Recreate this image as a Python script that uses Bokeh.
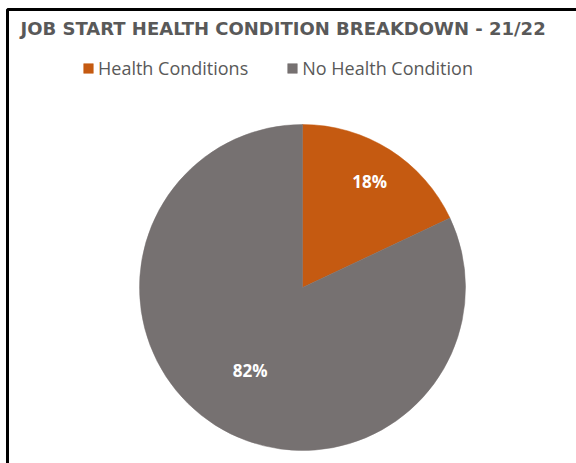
import math
from bokeh.plotting import figure
from bokeh.models import Range1d, ColumnDataSource, Legend, LegendItem
from bokeh.core.properties import value
from bokeh.embed import file_html
from bokeh.resources import INLINE

title_text = "JOB START HEALTH CONDITION BREAKDOWN - 21/22"
categories = ["Health Conditions", "No Health Condition"]
shares = [18, 82]
colors = ["#C55A11", "#767171"]

W, H = 576, 463
cx, cy, r = 302, H - 287, 163

p = figure(width=W, height=H, output_backend="svg", toolbar_location=None,
           x_range=Range1d(0, W), y_range=Range1d(0, H), min_border=0)
p.axis.visible = False
p.grid.visible = False
p.outline_line_color = None
p.background_fill_color = "white"
p.border_fill_color = "white"

# wedge angles: start at 12 o'clock, going clockwise
total = sum(shares)
starts, ends, mids = [], [], []
a = math.pi / 2
for s in shares:
    da = 2 * math.pi * s / total
    starts.append(a)
    ends.append(a - da)
    mids.append(a - da / 2)
    a -= da

src = ColumnDataSource(dict(start=starts, end=ends, color=colors, cat=categories))
wr = p.wedge(x=cx, y=cy, radius=r, start_angle="end", end_angle="start",
             fill_color="color", line_color="color", line_width=0.5, source=src)

# data labels
lab_r = [0.77, 0.6]
lx = [cx + f * r * math.cos(m) for f, m in zip(lab_r, mids)]
ly = [cy + f * r * math.sin(m) for f, m in zip(lab_r, mids)]
p.text(x=lx, y=ly, text=[f"{s}%" for s in shares], text_color="white",
       text_font=value("Open Sans"), text_font_style="bold", text_font_size="17px",
       text_align="center", text_baseline="middle")

# title
p.text(x=[20], y=[H - 28], text=[title_text], text_color="#595959",
       text_font=value("DejaVu Sans"), text_font_style="bold", text_font_size="18px",
       text_align="left", text_baseline="middle")

# legend
items = [LegendItem(label=c, renderers=[wr], index=i) for i, c in enumerate(categories)]
legend = Legend(items=items, orientation="horizontal", location=(82, 383),
                label_text_font="Open Sans", label_text_font_size="18px",
                label_text_color="#595959", glyph_width=12, glyph_height=12,
                label_standoff=4, spacing=38, padding=0, margin=0,
                border_line_alpha=0, background_fill_alpha=0)
p.add_layout(legend, "center")

# frame border (left and top)
p.line(x=[7, 7, W + 5], y=[-5, H - 9, H - 9], line_color="black", line_width=3)

open("out.html", "w").write(file_html(p, INLINE))
